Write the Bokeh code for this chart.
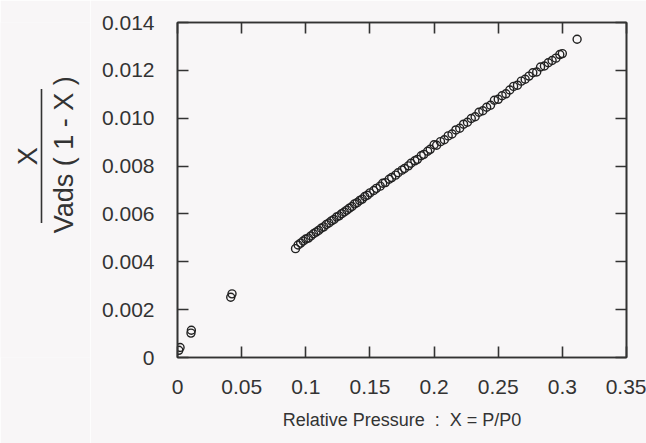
import math
from bokeh.plotting import figure
from bokeh.layouts import row
from bokeh.models import LinearAxis, FixedTicker, ColumnDataSource
from bokeh.core.properties import value
from bokeh.embed import file_html
from bokeh.resources import INLINE

# ---- data ----
x_low = [0.001, 0.002, 0.0105, 0.0108, 0.0415, 0.0425]
y_low = [0.00030, 0.00042, 0.00102, 0.00114, 0.00252, 0.00266]

x_main = [0.092, 0.094, 0.096, 0.098, 0.100, 0.102, 0.104, 0.106, 0.108, 0.110,
          0.112, 0.114, 0.116, 0.118, 0.120, 0.122, 0.124, 0.126, 0.128, 0.130,
          0.132, 0.134, 0.136, 0.138, 0.140, 0.142, 0.144, 0.146, 0.148, 0.150,
          0.153, 0.155, 0.158, 0.160, 0.162, 0.165, 0.167, 0.170, 0.172, 0.175,
          0.177, 0.180, 0.182, 0.185, 0.187, 0.190, 0.192, 0.195, 0.197, 0.200,
          0.202, 0.205, 0.208, 0.211, 0.214, 0.217, 0.220, 0.223, 0.226, 0.229,
          0.232, 0.235, 0.238, 0.241, 0.244, 0.247, 0.250, 0.253, 0.256, 0.259,
          0.262, 0.265, 0.268, 0.271, 0.274, 0.277, 0.280, 0.283, 0.286, 0.289,
          0.292, 0.295, 0.298, 0.300, 0.3115]
y_main = [0.00455, 0.00470, 0.00478, 0.00487, 0.00495, 0.00499, 0.00508, 0.00517, 0.00524, 0.00531,
          0.00540, 0.00546, 0.00556, 0.00562, 0.00571, 0.00577, 0.00587, 0.00592, 0.00601, 0.00608,
          0.00616, 0.00624, 0.00631, 0.00642, 0.00647, 0.00656, 0.00662, 0.00673, 0.00678, 0.00688,
          0.00698, 0.00707, 0.00716, 0.00728, 0.00731, 0.00745, 0.00752, 0.00762, 0.00772, 0.00783,
          0.00790, 0.00801, 0.00812, 0.00822, 0.00828, 0.00843, 0.00849, 0.00862, 0.00870, 0.00889,
          0.00887, 0.00902, 0.00910, 0.00926, 0.00934, 0.00951, 0.00958, 0.00975, 0.00983, 0.00999,
          0.01006, 0.01025, 0.01031, 0.01046, 0.01054, 0.01075, 0.01079, 0.01094, 0.01102, 0.01118,
          0.01133, 0.01138, 0.01155, 0.01163, 0.01176, 0.01190, 0.01193, 0.01214, 0.01218, 0.01232,
          0.01241, 0.01251, 0.01266, 0.01270, 0.01330]

x_ticks = [0, 0.05, 0.1, 0.15, 0.2, 0.25, 0.3, 0.35]
x_tick_labels = ["0", "0.05", "0.1", "0.15", "0.2", "0.25", "0.3", "0.35"]
y_ticks = [0, 0.002, 0.004, 0.006, 0.008, 0.01, 0.012, 0.014]
y_tick_labels = ["0", "0.002", "0.004", "0.006", "0.008", "0.010", "0.012", "0.014"]

NB = "\u00a0"
x_title = "Relative Pressure" + NB * 2 + ":" + NB * 2 + "X = P/P0"
y_title_num = "X"
y_title_den = "Vads ( 1 - X )"

# ---- style ----
BG = "#f8f6f7"
INK = "#333333"
FONT = "Liberation Sans"
PAGE_H = 443
LEFT_W = 90

# ---- main plot ----
p = figure(width=646 - LEFT_W, height=PAGE_H, x_range=(0, 0.35), y_range=(0, 0.014),
           output_backend="svg", toolbar_location=None,
           min_border_left=177 - LEFT_W, min_border_right=20, min_border_top=22,
           min_border_bottom=86, x_axis_location=None, y_axis_location=None)
p.background_fill_color = BG
p.border_fill_color = BG
p.outline_line_color = INK
p.outline_line_width = 1.6
p.xgrid.visible = False
p.ygrid.visible = False


def make_axis(ticks, labels, show_labels):
    ax = LinearAxis(ticker=FixedTicker(ticks=ticks))
    ax.major_tick_in = 11
    ax.major_tick_out = 0
    ax.minor_tick_line_color = None
    ax.major_tick_line_color = INK
    ax.major_tick_line_width = 1.6
    ax.axis_line_color = INK
    ax.axis_line_width = 1.6
    if show_labels:
        ax.major_label_overrides = dict(zip(ticks, labels))
        ax.major_label_text_font = FONT
        ax.major_label_text_font_size = "21px"
        ax.major_label_text_color = INK
    else:
        ax.major_label_text_font_size = "0px"
        ax.major_label_text_color = None
        ax.major_label_standoff = 0
    return ax


xb = make_axis(x_ticks, x_tick_labels, True)
xb.major_label_standoff = 22
xb.axis_label = x_title
xb.axis_label_text_font = FONT
xb.axis_label_text_font_style = "normal"
xb.axis_label_text_font_size = "18px"
xb.axis_label_text_color = INK
xb.axis_label_standoff = 13
p.add_layout(xb, "below")

yl = make_axis(y_ticks, y_tick_labels, True)
yl.major_label_standoff = 23
p.add_layout(yl, "left")

p.add_layout(make_axis(x_ticks, x_tick_labels, False), "above")
p.add_layout(make_axis(y_ticks, y_tick_labels, False), "right")

src_main = ColumnDataSource(dict(x=x_main, y=y_main))
src_low = ColumnDataSource(dict(x=x_low, y=y_low))
for src in (src_main, src_low):
    p.scatter("x", "y", source=src, marker="circle", size=8,
              fill_color=None, line_color="#222222", line_width=1.4)

# ---- left strip with the fraction-style y title ----
pl = figure(width=LEFT_W, height=PAGE_H, x_range=(0, LEFT_W), y_range=(0, PAGE_H),
            output_backend="svg", toolbar_location=None,
            min_border=0, x_axis_location=None, y_axis_location=None)
pl.background_fill_color = BG
pl.border_fill_color = BG
pl.outline_line_color = None
pl.xgrid.visible = False
pl.ygrid.visible = False

pl.text(x=[27], y=[PAGE_H - 177], text=[y_title_num], angle=math.pi / 2,
        text_align="center", text_baseline="middle",
        text_font=value(FONT), text_font_size="27px", text_color=INK)
pl.text(x=[63], y=[PAGE_H - 175], text=[y_title_den], angle=math.pi / 2,
        text_align="center", text_baseline="middle",
        text_font=value(FONT), text_font_size="27px", text_color=INK)
pl.segment(x0=[41], y0=[PAGE_H - 88], x1=[41], y1=[PAGE_H - 265],
           line_color=INK, line_width=1.6)

layout = row(pl, p, spacing=0)
open("out.html", "w").write(file_html(layout, INLINE))
